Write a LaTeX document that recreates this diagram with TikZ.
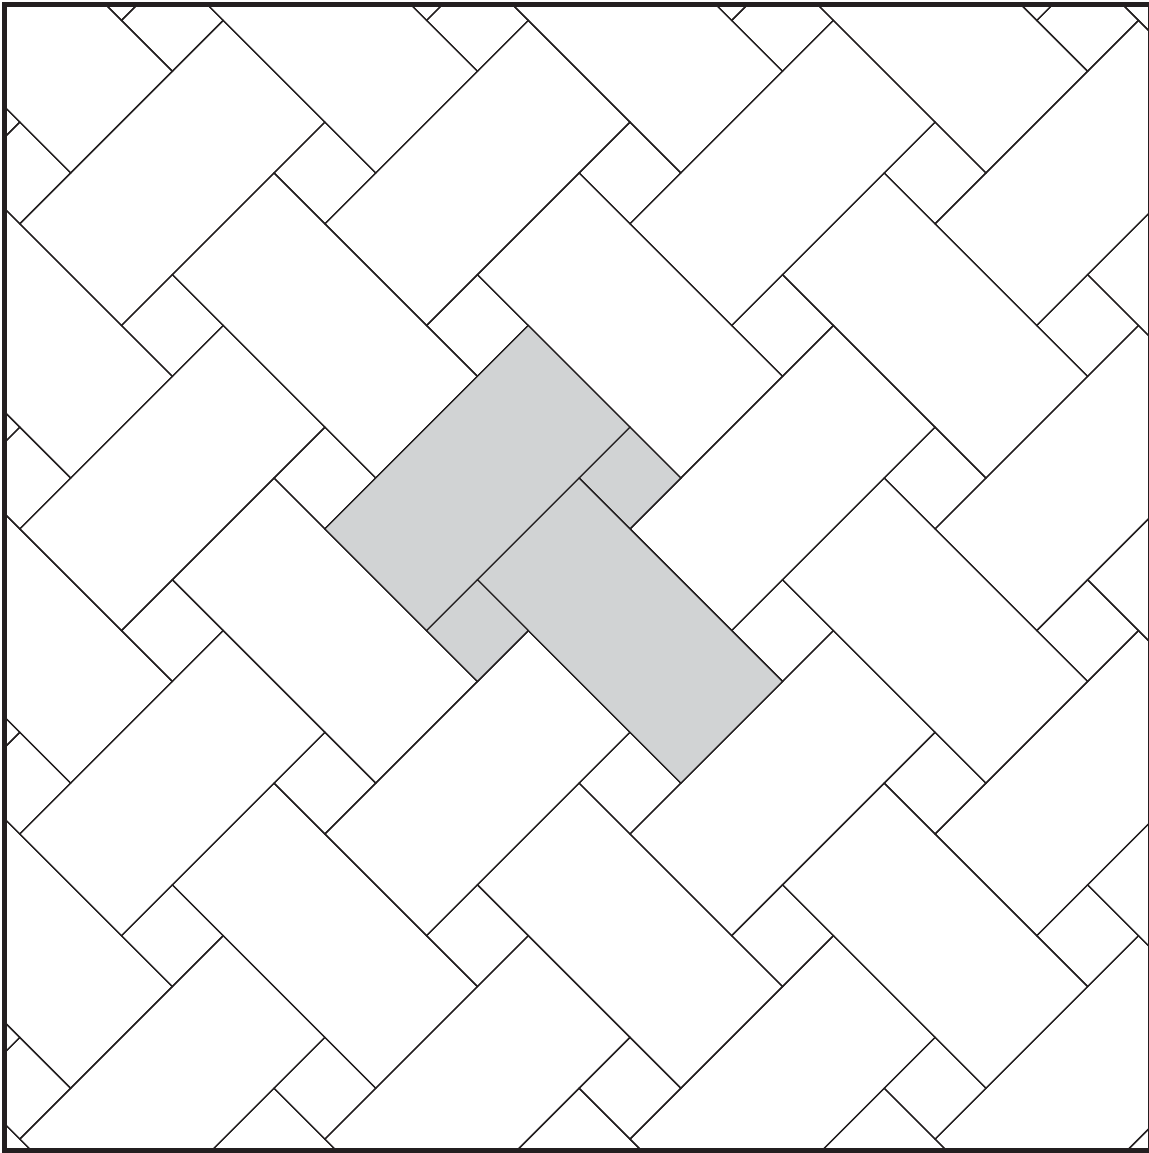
\documentclass[tikz,border=0pt]{standalone}
\usepackage{xcolor}
\usepackage{tikz}
\definecolor{inkline}{HTML}{231F20}
\definecolor{tilegray}{HTML}{D1D3D4}

\begin{document}
\begin{tikzpicture}[x=0.5pt,y=-0.5pt,
  tileedge/.style={draw=inkline,line width=0.65pt},
  frameedge/.style={draw=inkline,line width=2.6pt}]
  \useasboundingbox (0,0) rectangle (1149,1153);
  \begin{scope}
    \clip (4.5,4.5) rectangle (1151,1150.5);
    % lattice: i runs down-right, j runs up-right
    \begin{scope}[shift={(528.3,325.5)},x={(25.425pt,-25.425pt)},y={(25.425pt,25.425pt)}]
      \foreach \m in {-3,...,3}
        \foreach \n in {-3,...,3} {
          \pgfmathsetmacro{\si}{3*(\m)+3*(\n)}
          \pgfmathsetmacro{\sj}{3*(\m)-3*(\n)}
          \begin{scope}[shift={(\si,\sj)}]
            \draw[tileedge] (0,0) -- (2,0) -- (2,-4) -- (0,-4) -- cycle;
            \draw[tileedge] (2,0) -- (3,0) -- (3,-1) -- (2,-1) -- cycle;
            \draw[tileedge] (2,-1) -- (6,-1) -- (6,-3) -- (2,-3) -- cycle;
            \draw[tileedge] (2,-3) -- (3,-3) -- (3,-4) -- (2,-4) -- cycle;
          \end{scope}
        }
      % highlighted unit
      \filldraw[tileedge,fill=tilegray] (0,0) -- (2,0) -- (2,-4) -- (0,-4) -- cycle;
      \filldraw[tileedge,fill=tilegray] (2,0) -- (3,0) -- (3,-1) -- (2,-1) -- cycle;
      \filldraw[tileedge,fill=tilegray] (2,-1) -- (6,-1) -- (6,-3) -- (2,-3) -- cycle;
      \filldraw[tileedge,fill=tilegray] (2,-3) -- (3,-3) -- (3,-4) -- (2,-4) -- cycle;
    \end{scope}
  \end{scope}
  \draw[frameedge] (4.5,4.5) rectangle (1151,1150.5);
\end{tikzpicture}
\end{document}
